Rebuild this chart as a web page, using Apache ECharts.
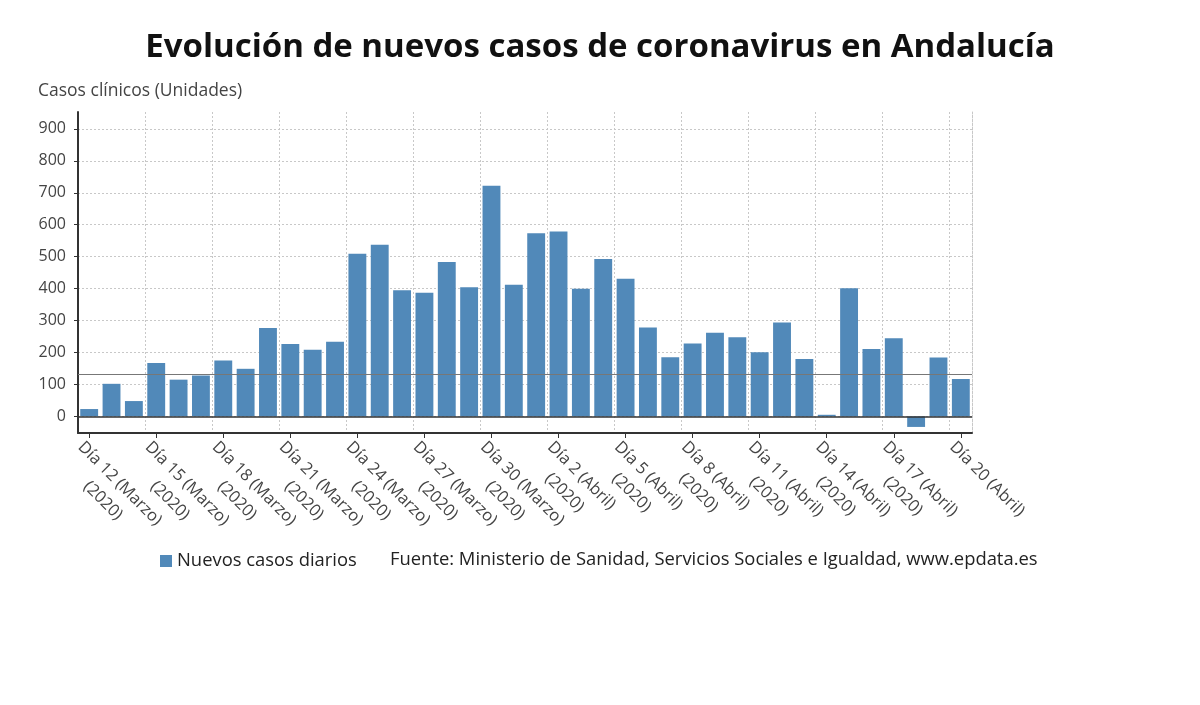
<!DOCTYPE html>
<html>
<head>
<meta charset="utf-8">
<script src="https://cdn.jsdelivr.net/npm/echarts@6/dist/echarts.min.js"></script>
<style>html,body{margin:0;padding:0;background:#fff;}#c{width:1200px;height:705px;}</style>
</head>
<body>
<div id="c"></div>
<script>
const days = [12,13,14,15,16,17,18,19,20,21,22,23,24,25,26,27,28,29,30,31,1,2,3,4,5,6,7,8,9,10,11,12,13,14,15,16,17,18,19,20];
const months = ['Marzo','Marzo','Marzo','Marzo','Marzo','Marzo','Marzo','Marzo','Marzo','Marzo','Marzo','Marzo','Marzo','Marzo','Marzo','Marzo','Marzo','Marzo','Marzo','Marzo','Abril','Abril','Abril','Abril','Abril','Abril','Abril','Abril','Abril','Abril','Abril','Abril','Abril','Abril','Abril','Abril','Abril','Abril','Abril','Abril'];
const categories = days.map((d, i) => 'Día ' + d + ' (' + months[i] + ')');
const newCases = [23,102,48,167,115,128,175,149,277,227,209,234,509,537,395,387,483,404,722,412,573,579,400,493,431,278,185,228,262,248,201,294,180,5,401,211,245,-33,184,117];
const referenceLevel = 133;
const yTickValues = [0,100,200,300,400,500,600,700,800,900];

const FONT = "'Open Sans', 'Noto Sans', sans-serif";
const chart = echarts.init(document.getElementById('c'));
chart.setOption({
  backgroundColor: '#fff',
  animation: false,
  textStyle: { fontFamily: FONT },
  title: {
    text: 'Evolución de nuevos casos de coronavirus en Andalucía',
    left: 'center', top: 26,
    textStyle: { fontFamily: FONT, fontSize: 33, fontWeight: 'bold', color: '#111' }
  },
  graphic: [
    { type: 'text', left: 38, top: 82, style: { text: 'Casos clínicos (Unidades)', fontFamily: FONT, fontSize: 17.5, fill: '#444' } },
    { type: 'text', left: 390, top: 551, style: { text: 'Fuente: Ministerio de Sanidad, Servicios Sociales e Igualdad, www.epdata.es', fontFamily: FONT, fontSize: 18.4, fill: '#222' } }
  ],
  legend: {
    left: 155, top: 547, icon: 'rect', itemWidth: 12, itemHeight: 12, itemGap: 6,
    textStyle: { fontFamily: FONT, fontSize: 18.4, color: '#222' },
    data: ['Nuevos casos diarios']
  },
  grid: { left: 78, top: 112, width: 894, height: 321, containLabel: false },
  xAxis: {
    type: 'category', data: categories, boundaryGap: true,
    axisLine: { onZero: false, lineStyle: { color: '#333', width: 2 } },
    axisTick: { show: true, interval: 2, alignWithLabel: true, length: 5, lineStyle: { color: '#333' } },
    splitLine: { show: true, interval: 2, lineStyle: { color: '#c8c8c8', type: [2, 2], width: 1 } },
    axisLabel: {
      interval: 2, rotate: -45, margin: 3, verticalAlign: 'top', color: '#444', fontSize: 16.5, fontFamily: FONT,
      formatter: function (v, i) {
        if (i === categories.length - 1) return '{a|' + v + '}';
        return '{a|' + v + '}\n{b|(2020)}';
      },
      rich: {
        a: { fontSize: 16.5, color: '#444', fontFamily: FONT, lineHeight: 24 },
        b: { fontSize: 16.5, color: '#444', fontFamily: FONT, lineHeight: 24, align: 'center' }
      }
    }
  },
  yAxis: [{
    type: 'value', min: -52, max: 953,
    axisLine: { show: true, lineStyle: { color: '#333', width: 2 } },
    axisTick: { show: true, length: 4, customValues: yTickValues, lineStyle: { color: '#333' } },
    axisLabel: { customValues: yTickValues, color: '#444', fontSize: 16, fontFamily: FONT, margin: 12 },
    splitLine: { show: true, lineStyle: { color: '#c8c8c8', type: [2, 2], width: 1 } }
  }, {
    type: 'value', min: -52, max: 953, position: 'right',
    axisLine: { show: true, lineStyle: { color: '#c8c8c8', type: [2, 2], width: 1 } },
    axisTick: { show: false }, axisLabel: { show: false }, splitLine: { show: false }
  }],
  series: [{
    name: 'Nuevos casos diarios', type: 'bar', data: newCases,
    barCategoryGap: '20%',
    itemStyle: { color: '#5189b9' },
    markLine: {
      silent: true, symbol: 'none', label: { show: false },
      data: [
        { yAxis: 0, lineStyle: { color: '#333', width: 1.5, type: 'solid' } },
        { yAxis: referenceLevel, lineStyle: { color: '#777', width: 1.2, type: 'solid' } }
      ]
    }
  }]
});
</script>
</body>
</html>
